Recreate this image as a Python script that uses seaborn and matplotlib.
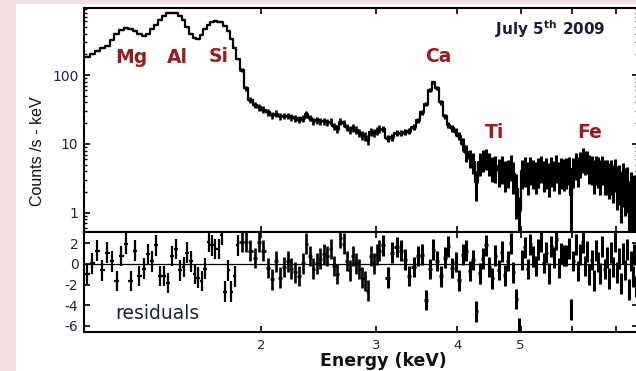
import numpy as np
import pandas as pd
import matplotlib
matplotlib.use("Agg")
import matplotlib.pyplot as plt
from matplotlib.patches import Rectangle
from matplotlib.ticker import NullLocator, NullFormatter, LogLocator
import seaborn as sns

# ---------------------------------------------------------------------------
# Grouped spectrum, July 5th 2009
# low band: 0.02 keV bins
energy_lo = [1.08, 1.10, 1.12, 1.14, 1.16, 1.18, 1.20, 1.22, 1.24, 1.26,
             1.28, 1.30, 1.32, 1.34, 1.36, 1.38, 1.40, 1.42, 1.44, 1.46,
             1.48, 1.50, 1.52, 1.54, 1.56, 1.58, 1.60, 1.62, 1.64, 1.66,
             1.68, 1.70, 1.72, 1.74, 1.76, 1.78, 1.80, 1.82, 1.84]
counts_lo = [185, 200, 220, 245, 268, 320, 395, 450, 478, 468,
             430, 390, 368, 400, 470, 540, 620, 720, 785, 800,
             790, 730, 620, 490, 400, 350, 335, 380, 470, 540,
             580, 600, 595, 590, 520, 430, 330, 245, 170]
err_lo = [3, 3, 3, 3.5, 4, 4.5, 5.5, 6, 6.5, 6.5,
          6, 5.5, 5, 5.5, 6.5, 7.5, 8.5, 10, 11, 11,
          11, 10, 8.5, 7, 5.5, 5, 4.5, 5.5, 6.5, 7.5,
          8, 8.5, 8.5, 8, 7, 6, 5, 4, 3]
resid_lo = [-0.97, 0.07, 1.28, -0.63, 1.11, 0.24, -1.67, 0.76, 1.98, -1.67,
            1.28, -1.15, -0.45, 0.94, 0.24, 1.81, -1.15, -1.15, -1.84, 0.76,
            1.46, -0.63, -0.28, 1.11, 0.24, -0.97, -1.32, -1.67, -0.45, 2.15,
            1.8, 1.46, 1.46, 2.85, -2.7, -0.63, -2.7, -1.2, 1.81]
halfwidth_lo = 0.01

# middle band: 0.03 keV bins
energy_mid = [1.865, 1.895, 1.925, 1.955, 1.985, 2.015, 2.045, 2.075, 2.105, 2.135,
              2.165, 2.195, 2.225, 2.255, 2.285, 2.315, 2.345, 2.375, 2.405, 2.435,
              2.465, 2.495, 2.525, 2.555, 2.585, 2.615, 2.645, 2.675, 2.705, 2.735,
              2.765, 2.795, 2.825, 2.855, 2.885, 2.915, 2.945, 2.975, 3.005, 3.035]
counts_mid = [120, 64, 44, 37, 34, 31.5, 29, 26, 27.5, 25,
              25.5, 25.5, 24.5, 23.5, 22.5, 23.5, 27, 24, 21.5, 22,
              21.5, 21.5, 20.5, 21, 18, 16.5, 21, 20, 17.5, 16,
              17, 16, 14.5, 13.5, 13, 11.5, 15, 14.5, 15.5, 16.5]
err_mid = [8, 5.5, 4.2, 3.9, 3.6, 3.5, 3.2, 2.9, 3.1, 2.8,
           2.8, 2.8, 2.8, 2.7, 2.7, 2.7, 2.9, 2.7, 2.5, 2.5,
           2.5, 2.5, 2.4, 2.5, 2.2, 2.1, 2.5, 2.4, 2.2, 2.1,
           2.2, 2.1, 2.0, 2.0, 2.0, 1.8, 2.1, 2.1, 2.1, 2.2]
resid_mid = [2.15, 2.15, 1.28, 0.59, 2.15, 1.28, -0.4, -1.49, 0.24, -1.32,
             -0.28, 0.24, -0.45, -0.8, -1.15, 0.07, 1.98, 0.76, -0.45, 0.07,
             0.5, 0.94, 0.76, 1.46, -0.2, -0.97, 2.5, 1.98, 0.3, -0.63,
             0.76, 0.07, -0.5, -1.32, -1.67, -2.6, 0.76, 0.07, 0.9, 1.28]
halfwidth_mid = 0.015

# high band: 0.05 keV bins
energy_hi = [3.075, 3.125, 3.175, 3.225, 3.275, 3.325, 3.375, 3.425, 3.475, 3.525,
             3.575, 3.625, 3.675, 3.725, 3.775, 3.825, 3.875, 3.925, 3.975, 4.025,
             4.075, 4.125, 4.175, 4.225, 4.275, 4.325, 4.375, 4.425, 4.475, 4.525,
             4.575, 4.625, 4.675, 4.725, 4.775, 4.825, 4.875, 4.925, 4.975, 5.025,
             5.075, 5.125, 5.175, 5.225, 5.275, 5.325, 5.375, 5.425, 5.475, 5.525,
             5.575, 5.625, 5.675, 5.725, 5.775, 5.825, 5.875, 5.925, 5.975, 6.025,
             6.075, 6.125, 6.175, 6.225, 6.275, 6.325, 6.375, 6.425, 6.475, 6.525,
             6.575, 6.625, 6.675, 6.725, 6.775, 6.825, 6.875, 6.925, 6.975, 7.025,
             7.075, 7.125, 7.175, 7.225, 7.275, 7.325, 7.375, 7.425, 7.475, 7.525]
counts_hi = [16.5, 12, 12.5, 14.5, 14.5, 15, 15.5, 17.5, 22, 29,
             38, 60, 78, 64, 40, 25, 19, 17, 15, 13,
             10, 7.5, 6.3, 5.5, 2.8, 5.4, 6.0, 6.3, 5.4, 4.6,
             4.7, 4.2, 4.6, 3.8, 4.1, 4.9, 3.7, 2.2, 1.1, 4.0,
             4.4, 3.6, 4.5, 4.0, 3.7, 4.3, 4.7, 3.8, 4.2, 3.5,
             4.4, 3.9, 4.8, 3.7, 4.2, 4.1, 4.2, 4.5, 1.8, 4.3,
             5.2, 4.4, 5.4, 6.2, 5.7, 5.8, 4.7, 4.6, 3.9, 4.6,
             4.4, 3.8, 4.6, 3.8, 3.8, 3.4, 3.8, 3.2, 4.0, 2.9,
             3.1, 2.4, 3.2, 2.7, 2.8, 1.6, 2.2, 1.8, 1.9, 1.2]
err_hi = [1.8, 1.5, 1.5, 1.6, 1.6, 1.6, 1.7, 1.8, 2.1, 2.5,
          2.9, 3.9, 4.6, 4.1, 3.2, 2.4, 2.1, 2.0, 1.9, 1.8,
          2.1, 2.0, 1.8, 1.8, 1.3, 2.0, 2.1, 2.1, 2.0, 1.8,
          2.0, 1.8, 2.0, 1.8, 1.8, 2.0, 1.8, 1.4, 0.6, 1.8,
          2.0, 1.8, 2.0, 1.8, 1.8, 2.0, 2.0, 1.8, 2.0, 1.8,
          2.0, 1.8, 2.1, 1.8, 2.0, 2.0, 2.0, 2.0, 1.3, 2.0,
          2.2, 2.0, 2.2, 2.4, 2.2, 2.2, 2.1, 2.1, 2.0, 2.1,
          2.1, 2.0, 2.1, 2.0, 2.0, 1.8, 2.0, 1.8, 2.0, 1.8,
          1.8, 1.7, 2.0, 1.8, 1.8, 1.3, 1.7, 1.5, 1.6, 1.1]
resid_hi = [1.81, -1.32, 1.11, 1.63, 1.28, 0.42, -1.15, -0.28, 0.76, 0.9,
            -3.5, -0.5, 1.4, 0.3, -1.2, 0.6, 1.7, -0.4, 0.2, -1.6,
            0.9, 1.3, -0.7, 0.4, -4.6, -0.9, 0.5, 1.8, -0.3, -1.4,
            0.8, -0.6, 1.2, -1.1, 0.3, 2.0, -0.8, -3.4, -6.2, 0.4,
            1.6, -0.5, 1.9, 0.7, -0.2, 1.4, 2.2, 0.1, 1.1, -0.9,
            1.7, 0.6, 2.4, -0.4, 1.0, 0.8, 0.8, 1.5, -4.4, 0.3,
            1.9, -0.7, 0.9, 2.1, -0.2, 1.2, -1.0, 0.4, -1.6, 1.3,
            0.2, -0.9, 1.7, -0.5, 0.6, -1.4, 1.1, -0.3, 2.2, -0.8,
            0.5, -1.9, 1.0, -0.6, 1.4, -2.5, 0.3, -1.2, 0.9, -2.2]
halfwidth_hi = 0.025

# residuals are in units of sigma
resid_sigma = 1.0

line_names = ["Mg", "Al", "Si", "Ca", "Ti", "Fe"]
energy_ticks = [2, 3, 4, 5, 6, 7]
energy_tick_labels = ["2", "3", "4", "5", "", ""]
count_ticks = [1, 10, 100]
count_tick_labels = ["1", "10", "100"]
resid_ticks = [2, 0, -2, -4, -6]
resid_tick_labels = ["2", "0", "-2", "-4", "-6"]

# ---------------------------------------------------------------------------
bands = [
    (energy_lo, counts_lo, err_lo, resid_lo, halfwidth_lo),
    (energy_mid, counts_mid, err_mid, resid_mid, halfwidth_mid),
    (energy_hi, counts_hi, err_hi, resid_hi, halfwidth_hi),
]
spec = pd.concat(
    [pd.DataFrame({"energy": e, "counts": c, "err": s, "resid": r,
                   "halfwidth": hw, "band": i})
     for i, (e, c, s, r, hw) in enumerate(bands)],
    ignore_index=True,
)

W, H = 636, 371
sns.set_theme(style="ticks")
plt.rcParams["font.family"] = ["DejaVu Sans"]
plt.rcParams["mathtext.fontset"] = "dejavusans"

NAVY = "#1b2550"
RED = "#9b1c1f"

fig = plt.figure(figsize=(W / 100, H / 100), dpi=100)
fig.patch.set_facecolor("#f2e0e0")
fig.add_artist(Rectangle((16 / W, 0), 1 - 16 / W, 1 - 4 / H,
                         transform=fig.transFigure, facecolor="white",
                         edgecolor="none", zorder=-10))


def fx(x):
    return x / W


def fy(y):
    return 1 - y / H


left, right = 84, 638
ax_top = fig.add_axes([fx(left), fy(232), (right - left) / W, (232 - 8) / H])
ax_res = fig.add_axes([fx(left), fy(332), (right - left) / W, (332 - 232) / H],
                      sharex=ax_top)

# spectrum drawn as a histogram, with the channel crosses on top
sns.lineplot(data=spec, x="energy", y="counts", ax=ax_top,
             color="black", lw=1.6, drawstyle="steps-mid", estimator=None,
             sort=True, legend=False)

for band, lw in [(0, 1.6), (1, 1.9), (2, 2.2)]:
    d = spec[spec.band == band]
    ax_top.errorbar(d.energy, d.counts, xerr=d.halfwidth, yerr=d.err,
                    fmt="none", ecolor="black", elinewidth=lw, capsize=0)
    ax_res.errorbar(d.energy, d.resid, xerr=d.halfwidth, yerr=resid_sigma,
                    fmt="none", ecolor="black", elinewidth=lw, capsize=0)

ax_res.axhline(0, color="black", lw=0.9, zorder=0)

ax_top.set_xscale("log")
ax_top.set_yscale("log")
ax_top.set_xlim(1.069, 7.57)
ax_top.set_ylim(0.525, 940)
ax_res.set_ylim(-6.6, 3.1)

ax_res.set_xticks(energy_ticks)
ax_res.set_xticklabels(energy_tick_labels)
ax_res.xaxis.set_minor_locator(NullLocator())
ax_top.set_yticks(count_ticks)
ax_top.set_yticklabels(count_tick_labels)
ax_top.yaxis.set_minor_locator(LogLocator(base=10, subs=np.arange(2, 10)))
ax_top.yaxis.set_minor_formatter(NullFormatter())
ax_res.set_yticks(resid_ticks)
ax_res.set_yticklabels(resid_tick_labels)

for ax in (ax_top, ax_res):
    ax.set_facecolor("white")
    ax.set_xlabel("")
    ax.set_ylabel("")
    for sp in ax.spines.values():
        sp.set_visible(True)
        sp.set_linewidth(1.5)
        sp.set_color("black")
    ax.tick_params(which="major", direction="in", length=4.5, width=1.2,
                   top=True, right=True, color="black", labelcolor=NAVY,
                   labelsize=10)
    ax.tick_params(which="minor", direction="in", length=2.5, width=1.0,
                   top=True, right=True, color="black")
    ax.tick_params(axis="y", pad=4)
ax_top.tick_params(axis="x", labelbottom=False)
ax_res.tick_params(axis="x", pad=5, labelsize=9.5)

# element lines
label_pos = [(131, 63), (177, 63), (219, 62), (438, 62), (495, 138), (589.5, 138)]
for name, (x, y) in zip(line_names, label_pos):
    fig.text(fx(x), fy(y), name, ha="center", va="baseline", color=RED,
             fontsize=13.5, fontweight="bold")

fig.text(fx(550), fy(35), r"July 5$^{\mathbf{th}}$ 2009", ha="center",
         va="baseline", color="#1a1d3a", fontsize=11, fontweight="bold")
fig.text(fx(157), fy(319), "residuals", ha="center", va="baseline",
         color="#1b2236", fontsize=13.5)
fig.text(fx(383), fy(366), "Energy (keV)", ha="center", va="baseline",
         color="#111111", fontsize=12.5, fontweight="bold")
fig.text(fx(37), fy(151), "Counts /s - keV", ha="center", va="center",
         rotation=90, color="#111111", fontsize=11.5,
         family=["Liberation Sans", "DejaVu Sans"])

fig.savefig("out.png", dpi=100, facecolor=fig.get_facecolor())
